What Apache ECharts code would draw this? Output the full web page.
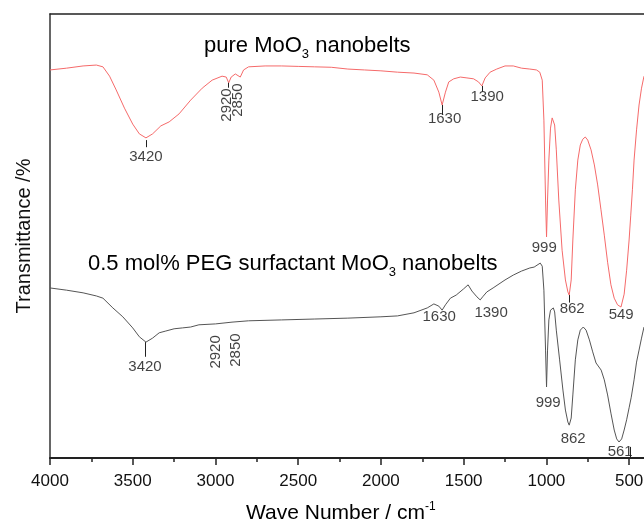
<!DOCTYPE html>
<html>
<head>
<meta charset="utf-8">
<script src="https://cdn.jsdelivr.net/npm/echarts@6/dist/echarts.min.js"></script>
<style>
  html, body { margin: 0; padding: 0; background: #fff; }
  #main { width: 644px; height: 530px; }
</style>
</head>
<body>
<div id="main"></div>
<script>
// pure MoO3 spectrum (wavenumber, transmittance in arbitrary %)
var redWn = [4000, 3900, 3800, 3720, 3680, 3640, 3600, 3550, 3500, 3460, 3420, 3380, 3330, 3280, 3220, 3150, 3080, 3020, 2960, 2935, 2920, 2905, 2880, 2850, 2830, 2800, 2700, 2600, 2500, 2400, 2300, 2200, 2100, 2000, 1900, 1800, 1720, 1680, 1650, 1630, 1610, 1590, 1560, 1520, 1480, 1440, 1410, 1390, 1370, 1340, 1300, 1250, 1200, 1150, 1100, 1060, 1040, 1025, 1015, 1005, 999, 993, 985, 975, 965, 958, 950, 940, 925, 905, 885, 870, 862, 850, 840, 825, 810, 795, 780, 765, 750, 730, 710, 690, 670, 650, 630, 610, 590, 570, 549, 530, 515, 500, 490, 480, 470, 455, 440, 425, 410];
var redT  = [87.4, 87.8, 88.3, 88.5, 88.1, 86.0, 82.9, 78.8, 75.2, 73.0, 72.1, 73.0, 74.8, 75.7, 77.5, 80.6, 83.3, 85.1, 86.0, 85.8, 84.5, 85.8, 86.5, 85.8, 87.4, 88.1, 88.3, 88.3, 88.2, 88.1, 88.0, 87.6, 87.4, 87.2, 86.9, 86.7, 86.3, 85.1, 82.4, 79.5, 82.4, 84.7, 85.4, 85.8, 85.6, 85.4, 84.7, 83.8, 85.6, 86.9, 87.6, 88.3, 88.3, 87.8, 87.6, 87.4, 86.9, 85.1, 76.1, 58.1, 49.8, 58.1, 67.1, 74.3, 76.6, 76.8, 75.0, 69.4, 58.1, 46.8, 40.1, 37.4, 36.7, 40.1, 49.1, 60.4, 67.1, 70.5, 71.8, 72.3, 71.6, 69.4, 66.0, 61.5, 55.9, 50.2, 44.1, 39.0, 36.0, 34.5, 34.0, 36.9, 42.3, 49.1, 54.7, 60.4, 67.1, 73.9, 79.5, 83.3, 86.0];

// 0.5 mol% PEG surfactant MoO3 spectrum
var blackWn = [4000, 3900, 3800, 3720, 3680, 3620, 3560, 3500, 3460, 3420, 3380, 3340, 3300, 3250, 3200, 3150, 3100, 3000, 2900, 2800, 2600, 2400, 2200, 2000, 1900, 1800, 1720, 1680, 1650, 1630, 1610, 1580, 1545, 1500, 1473, 1450, 1420, 1400, 1385, 1360, 1322, 1250, 1200, 1150, 1100, 1074, 1037, 1025, 1015, 1005, 999, 993, 985, 975, 958, 950, 940, 920, 900, 885, 870, 862, 850, 840, 825, 810, 795, 777, 760, 740, 720, 700, 669, 650, 630, 610, 590, 575, 561, 545, 530, 515, 500, 487, 470, 455, 440, 425, 410];
var blackT  = [38.3, 37.8, 37.2, 36.5, 36.0, 33.8, 31.8, 29.3, 27.3, 26.1, 27.0, 28.2, 28.6, 29.1, 29.3, 29.5, 30.0, 30.2, 30.6, 30.9, 31.1, 31.3, 31.5, 31.8, 32.0, 32.7, 33.8, 34.7, 34.2, 33.3, 34.5, 36.0, 36.7, 38.1, 39.0, 37.6, 36.3, 35.6, 36.3, 37.4, 38.3, 40.1, 41.2, 42.1, 42.8, 43.0, 43.9, 43.2, 37.8, 24.3, 16.0, 24.3, 31.1, 33.3, 33.8, 32.9, 28.8, 22.1, 15.3, 10.8, 8.1, 7.4, 9.0, 14.2, 22.1, 26.6, 28.8, 29.5, 28.8, 26.6, 23.9, 21.4, 19.8, 17.6, 14.2, 10.1, 6.3, 4.3, 3.6, 4.3, 6.3, 8.6, 11.3, 13.7, 17.6, 21.6, 24.3, 27.0, 29.5];

// x ticks
var xTicks = [4000, 3500, 3000, 2500, 2000, 1500, 1000, 500];
var xMinorTicks = [3750, 3250, 2750, 2250, 1750, 1250, 750];

// peak labels: text, wavenumber, transmittance of label anchor, rotation
var redLabels = [
  ['3420', 3420, 67.8, 0],
  ['2920', 2930, 79.5, 90],
  ['2850', 2863, 80.6, 90],
  ['1630', 1615, 76.4, 0],
  ['1390', 1358, 81.3, 0],
  ['999', 1013, 47.3, 0],
  ['862', 844, 33.6, 0],
  ['549', 548, 32.2, 0]
];
var blackLabels = [
  ['3420', 3426, 20.5, 0],
  ['2920', 2996, 23.9, 90],
  ['2850', 2875, 24.3, 90],
  ['1630', 1648, 31.8, 0],
  ['1390', 1334, 32.7, 0],
  ['999', 989, 12.4, 0],
  ['862', 838, 4.3, 0],
  ['561', 554, 1.4, 0]
];
// small leader ticks under the peaks: wavenumber, from, to
var leaderTicks = [
  [3420, 71.6, 70.0],
  [2920, 84.5, 83.4],
  [1630, 79.5, 77.3],
  [1385, 83.8, 82.5],
  [862, 36.7, 35.0],
  [3425, 26.1, 22.8],
  [495, 2.5, 0]
];

var FONT = '"Liberation Sans", Arial, sans-serif';

function zip(a, b) {
  var out = [];
  for (var i = 0; i < a.length; i++) out.push([a[i], b[i]]);
  return out;
}
function labelData(list) {
  return list.map(function (d) {
    return {
      name: d[0],
      value: [d[1], d[2]],
      label: { rotate: d[3] }
    };
  });
}
// subscript: top aligned with a top padding pushing it down
var titleRich = {
  n: { fontFamily: FONT, fontSize: 22, color: '#111', lineHeight: 24, verticalAlign: 'top' },
  s: { fontFamily: FONT, fontSize: 13, color: '#111', lineHeight: 14, verticalAlign: 'top', padding: [13, 0, 0, 0] }
};

var chart = echarts.init(document.getElementById('main'));
chart.setOption({
  backgroundColor: '#fff',
  animation: false,
  grid: { left: 50, top: 14, bottom: 72, right: 0, containLabel: false, outerBoundsMode: 'none' },
  xAxis: [
    {
      type: 'value',
      inverse: true,
      min: 410, max: 4000,
      axisLine: { show: true, onZero: false, lineStyle: { color: '#222', width: 2 } },
      axisTick: { show: true, customValues: xTicks, length: 7, lineStyle: { color: '#222', width: 1.5 } },
      axisLabel: {
        customValues: xTicks, fontFamily: FONT, fontSize: 17, color: '#111', margin: 15,
        formatter: function (v) { return String(v); }
      },
      splitLine: { show: false }
    },
    {
      // minor ticks
      type: 'value',
      inverse: true,
      position: 'bottom',
      min: 410, max: 4000,
      axisLine: { show: false, onZero: false },
      axisTick: { show: true, customValues: xMinorTicks, length: 4, lineStyle: { color: '#222', width: 1.5 } },
      axisLabel: { show: false },
      splitLine: { show: false }
    },
    {
      // top frame line
      type: 'value',
      inverse: true,
      position: 'top',
      min: 410, max: 4000,
      axisLine: { show: true, onZero: false, lineStyle: { color: '#222', width: 1.5 } },
      axisTick: { show: false },
      axisLabel: { show: false },
      splitLine: { show: false }
    }
  ],
  yAxis: {
    type: 'value',
    min: 0, max: 100,
    name: 'Transmittance /%',
    nameLocation: 'middle',
    nameGap: 16,
    nameTextStyle: { fontFamily: FONT, fontSize: 20, color: '#111' },
    axisLine: { show: true, lineStyle: { color: '#333', width: 1.5 } },
    axisTick: { show: false },
    axisLabel: { show: false },
    splitLine: { show: false }
  },
  graphic: [
    {
      type: 'text', left: 204, top: 35,
      style: { text: '{n|pure MoO}{s|3}{n| nanobelts}', rich: titleRich }
    },
    {
      type: 'text', left: 88, top: 253,
      style: { text: '{n|0.5 mol% PEG surfactant MoO}{s|3}{n| nanobelts}', rich: titleRich }
    },
    {
      type: 'text', left: 246, top: 501,
      style: {
        text: '{n|Wave Number / cm}{s|-1}',
        rich: {
          n: { fontFamily: FONT, fontSize: 21, color: '#111', lineHeight: 24, verticalAlign: 'bottom' },
          s: { fontFamily: FONT, fontSize: 12, color: '#111', lineHeight: 24, verticalAlign: 'bottom', padding: [0, 0, 11, 0] }
        }
      }
    }
  ],
  series: [
    {
      name: 'pure',
      type: 'line',
      data: zip(redWn, redT),
      showSymbol: false,
      clip: true,
      lineStyle: { color: '#f56a6a', width: 1 },
      markLine: {
        silent: true, symbol: 'none', animation: false,
        label: { show: false },
        lineStyle: { color: '#222', width: 1, type: 'solid' },
        data: leaderTicks.map(function (t) {
          return [{ coord: [t[0], t[1]] }, { coord: [t[0], t[2]] }];
        })
      }
    },
    {
      name: 'PEG',
      type: 'line',
      data: zip(blackWn, blackT),
      showSymbol: false,
      clip: true,
      lineStyle: { color: '#555', width: 1 }
    },
    {
      type: 'scatter',
      symbolSize: 0,
      silent: true,
      data: labelData(redLabels.concat(blackLabels)),
      label: {
        show: true, position: 'inside',
        fontFamily: FONT, fontSize: 15, color: '#111',
        formatter: function (p) { return p.name; }
      }
    }
  ]
});
</script>
</body>
</html>
